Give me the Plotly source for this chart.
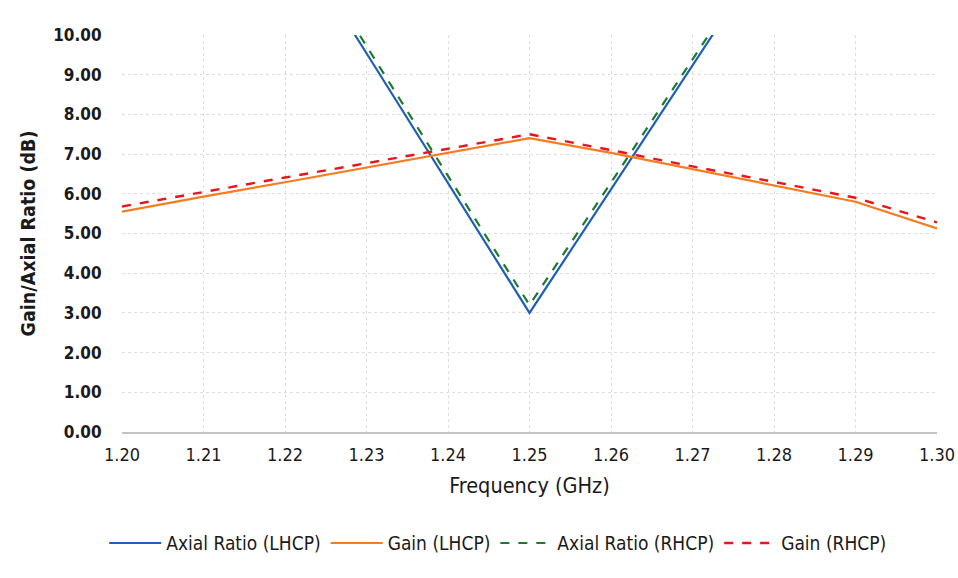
import plotly.graph_objects as go

freq = [1.20, 1.21, 1.22, 1.23, 1.24, 1.25, 1.26, 1.27, 1.28, 1.29, 1.30]
ar_lhcp = [19.4, 16.1, 12.8, 9.54, 6.27, 3.0, 6.11, 9.22, 12.3, 15.4, 18.6]
gain_lhcp = [5.55, 5.93, 6.29, 6.66, 7.04, 7.40, 7.03, 6.62, 6.21, 5.80, 5.13]
ar_rhcp = [19.6, 16.3, 13.0, 9.72, 6.45, 3.2, 6.28, 9.38, 12.5, 15.6, 18.7]
gain_rhcp = [5.68, 6.05, 6.41, 6.77, 7.14, 7.50, 7.10, 6.69, 6.30, 5.90, 5.28]

font = "DejaVu Sans Condensed, Roboto, Arial"

fig = go.Figure()
fig.add_trace(go.Scatter(x=freq, y=ar_lhcp, mode="lines", name="Axial Ratio (LHCP)",
                         line=dict(color="#1f5fb5", width=2.2)))
fig.add_trace(go.Scatter(x=freq, y=gain_lhcp, mode="lines", name="Gain (LHCP)",
                         line=dict(color="#f57c1f", width=2.2)))
fig.add_trace(go.Scatter(x=freq, y=ar_rhcp, mode="lines", name="Axial Ratio (RHCP)",
                         line=dict(color="#1e7a2e", width=2.2, dash="dash")))
fig.add_trace(go.Scatter(x=freq, y=gain_rhcp, mode="lines", name="Gain (RHCP)",
                         line=dict(color="#e8141e", width=2.4, dash="dash")))

fig.update_layout(
    width=958, height=578,
    margin=dict(l=122, r=21, t=35, b=146, autoexpand=False),
    paper_bgcolor="white", plot_bgcolor="white",
    font=dict(family=font, size=18, color="#1a1a1a"),
    showlegend=True,
    legend=dict(orientation="h", x=0.461, xanchor="center", y=-0.28, yanchor="middle",
                font=dict(size=19), traceorder="normal", itemwidth=52),
    xaxis=dict(range=[1.20, 1.30], tickvals=freq, ticktext=[f"{v:.2f}" for v in freq],
               showgrid=True, gridcolor="#dedede", griddash="dot", gridwidth=1,
               showline=True, linecolor="#c4c4c4", linewidth=1.5, zeroline=False,
               ticks="outside", ticklen=6, tickcolor="rgba(0,0,0,0)", tickfont=dict(size=18),
               title=dict(text="Frequency (GHz)", font=dict(size=21.5), standoff=14)),
    yaxis=dict(range=[0, 10], dtick=1, tickformat=".2f",
               showgrid=True, gridcolor="#dedede", griddash="dot", gridwidth=1,
               zeroline=False, showline=False, ticks="outside", ticklen=16,
               tickcolor="rgba(0,0,0,0)",
               tickfont=dict(size=17, weight="bold"),
               title=dict(text="<b>Gain/Axial Ratio (dB)</b>", font=dict(size=19.5), standoff=12)),
)

fig.write_html("out.html")
